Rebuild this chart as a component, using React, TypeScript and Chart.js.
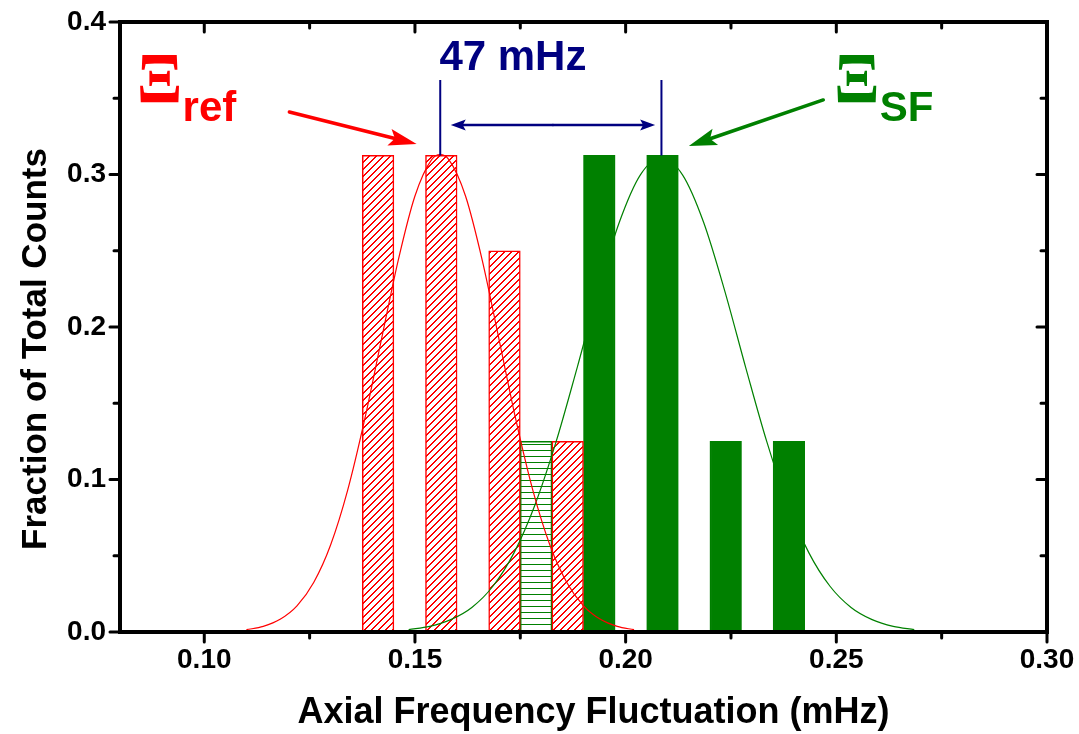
import { useEffect, useRef } from "react";
import { Chart, registerables } from "chart.js";

Chart.register(...registerables);

// Histogram bins (bin centre, fraction of total counts)
const refBinCenters = [0.14125, 0.15625, 0.17125, 0.18625];
const refFractions = [0.3125, 0.3125, 0.25, 0.125];
const sfBinCenters = [0.17875, 0.19375, 0.20875, 0.22375, 0.23875];
const sfFractions = [0.125, 0.3125, 0.3125, 0.125, 0.125];
const sfHatched = [true, false, false, false, false];

// Gaussian fit curves
const refFitX = [
  0.110, 0.114, 0.118, 0.122, 0.126, 0.130, 0.134, 0.138, 0.142, 0.146, 0.150, 0.154, 0.156,
  0.158, 0.162, 0.166, 0.170, 0.174, 0.178, 0.182, 0.186, 0.190, 0.194, 0.198, 0.202,
];
const refFitY = [
  0.0015, 0.0037, 0.0083, 0.0171, 0.0326, 0.0572, 0.0927, 0.1386, 0.1912, 0.2434, 0.2859, 0.3099, 0.313,
  0.3099, 0.2859, 0.2434, 0.1912, 0.1386, 0.0927, 0.0572, 0.0326, 0.0171, 0.0083, 0.0037, 0.0015,
];
const sfFitX = [
  0.1485, 0.1535, 0.1585, 0.1635, 0.1685, 0.1735, 0.1785, 0.1835, 0.1885, 0.1935, 0.1985, 0.2035, 0.2085,
  0.2135, 0.2185, 0.2235, 0.2285, 0.2335, 0.2385, 0.2435, 0.2485, 0.2535, 0.2585, 0.2635, 0.2685,
];
const sfFitY = [
  0.0016, 0.0037, 0.0081, 0.0161, 0.0300, 0.0519, 0.0835, 0.1248, 0.1734, 0.2239, 0.2687, 0.2998, 0.311,
  0.2998, 0.2687, 0.2239, 0.1734, 0.1248, 0.0835, 0.0519, 0.0300, 0.0161, 0.0081, 0.0037, 0.0016,
];

// Axes
const xRange = [0.08, 0.30];
const yRange = [0, 0.4];
const xTickValues = [0.10, 0.15, 0.20, 0.25, 0.30];
const xMinorTickValues = [0.125, 0.175, 0.225, 0.275];
const yTickValues = [0, 0.1, 0.2, 0.3, 0.4];
const yMinorTickValues = [0.05, 0.15, 0.25, 0.35];
const xTitle = "Axial Frequency Fluctuation (mHz)";
const yTitle = "Fraction of Total Counts";

// Peak markers and labels (data coordinates)
const refPeakX = 0.156;
const sfPeakX = 0.2085;
const markerBottomY = 0.3125;
const markerTopY = 0.362;
const spanArrowY = 0.3325;
const spanArrowEnds = [0.1585, 0.2070];
const spanLabel = "47 mHz";
const spanLabelPos = [0.1558, 0.3685];
const refArrow = [0.1202, 0.341, 0.1504, 0.320];
const sfArrow = [0.2469, 0.3489, 0.2150, 0.3187];
const refTagPos = [0.08456, 0.34774, 0.09485, 0.33528];
const sfTagPos = [0.25005, 0.34774, 0.26033, 0.33528];
const tagSymbol = "\u039E";
const refSub = "ref";
const sfSub = "SF";

const RED = "#ff0000";
const GREEN = "#008000";
const NAVY = "#000080";
const SANS = "'Liberation Sans', Arial, sans-serif";
const SERIF = "'Liberation Serif', 'Times New Roman', serif";

// "/" hatch built from whole pixels so the lines stay crisp
function makeDiagonalHatch(color: string, s = 7): CanvasPattern {
  const c = document.createElement("canvas");
  c.width = s;
  c.height = s;
  const g = c.getContext("2d")!;
  g.fillStyle = "#ffffff";
  g.fillRect(0, 0, s, s);
  g.fillStyle = color;
  for (let i = 0; i < s; i++) {
    const y = s - 1 - i;
    g.fillRect(i, y, 1, 1);
    g.fillRect((i + 1) % s, y, 1, 1);
  }
  return g.createPattern(c, "repeat")!;
}

function makeHorizontalHatch(color: string, s = 6): CanvasPattern {
  const c = document.createElement("canvas");
  c.width = 4;
  c.height = s;
  const g = c.getContext("2d")!;
  g.fillStyle = "#ffffff";
  g.fillRect(0, 0, 4, s);
  g.fillStyle = color;
  g.fillRect(0, 0, 4, 1);
  return g.createPattern(c, "repeat")!;
}

function drawArrow(
  ctx: CanvasRenderingContext2D,
  x1: number, y1: number, x2: number, y2: number,
  color: string, width: number, headLen: number, headWidth: number
) {
  const ang = Math.atan2(y2 - y1, x2 - x1);
  const cos = Math.cos(ang);
  const sin = Math.sin(ang);
  const bx = x2 - headLen * cos;
  const by = y2 - headLen * sin;
  const nx = x2 - headLen * 0.8 * cos;
  const ny = y2 - headLen * 0.8 * sin;
  ctx.save();
  ctx.strokeStyle = color;
  ctx.lineWidth = width;
  ctx.lineCap = "round";
  ctx.beginPath();
  ctx.moveTo(x1, y1);
  ctx.lineTo(nx, ny);
  ctx.stroke();
  ctx.fillStyle = color;
  ctx.beginPath();
  ctx.moveTo(x2, y2);
  ctx.lineTo(bx + (headWidth / 2) * sin, by - (headWidth / 2) * cos);
  ctx.lineTo(nx, ny);
  ctx.lineTo(bx - (headWidth / 2) * sin, by + (headWidth / 2) * cos);
  ctx.closePath();
  ctx.fill();
  ctx.restore();
}

// Draws a single glyph stretched into a box whose bottom-left corner is (left, bottom)
function drawGlyphInBox(
  ctx: CanvasRenderingContext2D, ch: string, font: string,
  left: number, bottom: number, w: number, h: number, color: string
) {
  ctx.save();
  ctx.font = font;
  const m = ctx.measureText(ch);
  const gw = m.actualBoundingBoxLeft + m.actualBoundingBoxRight;
  const gh = m.actualBoundingBoxAscent + m.actualBoundingBoxDescent;
  ctx.translate(left, bottom - h);
  ctx.scale(w / gw, h / gh);
  ctx.fillStyle = color;
  ctx.textAlign = "left";
  ctx.textBaseline = "alphabetic";
  ctx.fillText(ch, m.actualBoundingBoxLeft, m.actualBoundingBoxAscent);
  ctx.restore();
}

const decorations = {
  id: "decorations",
  afterDatasetsDraw(chart: any) {
    const ctx: CanvasRenderingContext2D = chart.ctx;
    const xs = chart.scales.x;
    const ys = chart.scales.y;
    const px = (v: number) => xs.getPixelForValue(v);
    const py = (v: number) => ys.getPixelForValue(v);

    // Peak markers and separation arrow
    ctx.save();
    ctx.strokeStyle = NAVY;
    ctx.lineWidth = 2;
    ctx.beginPath();
    for (const xv of [refPeakX, sfPeakX]) {
      ctx.moveTo(px(xv), py(markerBottomY));
      ctx.lineTo(px(xv), py(markerTopY));
    }
    ctx.stroke();
    ctx.restore();
    const ay = py(spanArrowY);
    const mid = (px(spanArrowEnds[0]) + px(spanArrowEnds[1])) / 2;
    drawArrow(ctx, mid, ay, px(spanArrowEnds[0]), ay, NAVY, 2.5, 15, 11);
    drawArrow(ctx, mid, ay, px(spanArrowEnds[1]), ay, NAVY, 2.5, 15, 11);

    ctx.save();
    ctx.fillStyle = NAVY;
    ctx.font = `bold 42px ${SANS}`;
    ctx.textAlign = "left";
    ctx.textBaseline = "alphabetic";
    ctx.fillText(spanLabel, px(spanLabelPos[0]), py(spanLabelPos[1]));
    ctx.restore();

    // Pointer arrows
    drawArrow(ctx, px(refArrow[0]), py(refArrow[1]), px(refArrow[2]), py(refArrow[3]), RED, 3.5, 28, 17);
    drawArrow(ctx, px(sfArrow[0]), py(sfArrow[1]), px(sfArrow[2]), py(sfArrow[3]), GREEN, 3.5, 28, 17);

    // Tags
    const tags: [number[], string, string][] = [
      [refTagPos, refSub, RED],
      [sfTagPos, sfSub, GREEN],
    ];
    for (const [pos, sub, color] of tags) {
      drawGlyphInBox(ctx, tagSymbol, `bold 60px ${SERIF}`, px(pos[0]), py(pos[1]), 40, 47, color);
      ctx.save();
      ctx.fillStyle = color;
      ctx.font = `bold 42px ${SANS}`;
      ctx.textAlign = "left";
      ctx.textBaseline = "alphabetic";
      ctx.fillText(sub, px(pos[2]), py(pos[3]));
      ctx.restore();
    }
  },
  afterDraw(chart: any) {
    const ctx: CanvasRenderingContext2D = chart.ctx;
    const { left, right, top, bottom } = chart.chartArea;
    const xs = chart.scales.x;
    const ys = chart.scales.y;

    ctx.save();
    ctx.strokeStyle = "#000";
    ctx.lineWidth = 4;
    ctx.lineJoin = "miter";
    ctx.strokeRect(left, top, right - left, bottom - top);

    ctx.lineWidth = 3;
    ctx.lineCap = "round";
    ctx.beginPath();
    const xt: [number, number][] = [
      ...xTickValues.map((v) => [v, 10] as [number, number]),
      ...xMinorTickValues.map((v) => [v, 6] as [number, number]),
    ];
    for (const [v, len] of xt) {
      const p = xs.getPixelForValue(v);
      ctx.moveTo(p, bottom);
      ctx.lineTo(p, bottom + len);
      ctx.moveTo(p, top);
      ctx.lineTo(p, top + len);
    }
    const yt: [number, number][] = [
      ...yTickValues.map((v) => [v, 10] as [number, number]),
      ...yMinorTickValues.map((v) => [v, 6] as [number, number]),
    ];
    for (const [v, len] of yt) {
      const p = ys.getPixelForValue(v);
      ctx.moveTo(left, p);
      ctx.lineTo(left - len, p);
      ctx.moveTo(right, p);
      ctx.lineTo(right - len, p);
    }
    ctx.stroke();

    // Axis titles
    ctx.fillStyle = "#000";
    ctx.textAlign = "center";
    ctx.textBaseline = "alphabetic";
    ctx.font = `bold 36px ${SANS}`;
    ctx.fillText(xTitle, (left + right) / 2 + 10, bottom + 91);
    ctx.translate(left - 74, (top + bottom) / 2 + 22);
    ctx.rotate(-Math.PI / 2);
    ctx.font = `bold 35px ${SANS}`;
    ctx.fillText(yTitle, 0, 0);
    ctx.restore();
  },
};

// Keeps the plot area where the layout padding puts it
function clearScalePadding(s: any) {
  s.paddingTop = 0;
  s.paddingBottom = 0;
  s.paddingLeft = 0;
  s.paddingRight = 0;
}

export default function App() {
  const canvasRef = useRef<HTMLCanvasElement>(null);

  useEffect(() => {
    const canvas = canvasRef.current!;
    const redHatch = makeDiagonalHatch(RED);
    const greenHatch = makeHorizontalHatch(GREEN);
    const tickFont = { family: SANS, size: 28, weight: "bold" as const };

    const chart = new Chart(canvas, {
      type: "bar",
      data: {
        datasets: [
          {
            type: "line",
            data: refFitX.map((x, i) => ({ x, y: refFitY[i] })),
            borderColor: RED,
            borderWidth: 1.2,
            pointRadius: 0,
            cubicInterpolationMode: "monotone",
            fill: false,
            order: 0,
          } as any,
          {
            type: "line",
            data: sfFitX.map((x, i) => ({ x, y: sfFitY[i] })),
            borderColor: GREEN,
            borderWidth: 1.2,
            pointRadius: 0,
            cubicInterpolationMode: "monotone",
            fill: false,
            order: 0,
          } as any,
          {
            type: "bar",
            data: refBinCenters.map((x, i) => ({ x, y: refFractions[i] })),
            backgroundColor: redHatch,
            borderColor: RED,
            borderWidth: 1.5,
            grouped: false,
            barPercentage: 1,
            categoryPercentage: 1,
            order: 1,
          } as any,
          {
            type: "bar",
            data: sfBinCenters.map((x, i) => ({ x, y: sfFractions[i] })),
            backgroundColor: sfHatched.map((h) => (h ? greenHatch : GREEN)),
            borderColor: GREEN,
            borderWidth: 1.5,
            grouped: false,
            barPercentage: 1,
            categoryPercentage: 1,
            order: 2,
          } as any,
        ],
      },
      options: {
        responsive: false,
        animation: false,
        devicePixelRatio: 1,
        layout: { padding: { left: 0, right: 32, top: 22, bottom: 0 } },
        plugins: {
          legend: { display: false },
          tooltip: { enabled: false },
        },
        scales: {
          x: {
            type: "linear",
            min: xRange[0],
            max: xRange[1],
            offset: false,
            grid: { display: false, drawTicks: false },
            border: { display: false },
            afterBuildTicks: (s: any) => {
              s.ticks = xTickValues.map((value) => ({ value }));
            },
            afterFit: (s: any) => {
              s.height = 102;
              clearScalePadding(s);
            },
            ticks: {
              font: tickFont,
              color: "#000",
              padding: 11,
              autoSkip: false,
              maxRotation: 0,
              callback: (v: any) => Number(v).toFixed(2),
            },
          },
          y: {
            type: "linear",
            min: yRange[0],
            max: yRange[1],
            grid: { display: false, drawTicks: false },
            border: { display: false },
            afterBuildTicks: (s: any) => {
              s.ticks = yTickValues.map((value) => ({ value }));
            },
            afterFit: (s: any) => {
              s.width = 120;
              clearScalePadding(s);
            },
            ticks: {
              font: tickFont,
              color: "#000",
              padding: 14,
              autoSkip: false,
              callback: (v: any) => Number(v).toFixed(1),
            },
          },
        },
      } as any,
      plugins: [decorations],
    });

    return () => chart.destroy();
  }, []);

  return (
    <div style={{ position: "fixed", left: 0, top: 0, width: 1079, height: 734, background: "#fff" }}>
      <canvas ref={canvasRef} width={1079} height={734} style={{ display: "block" }} />
    </div>
  );
}
